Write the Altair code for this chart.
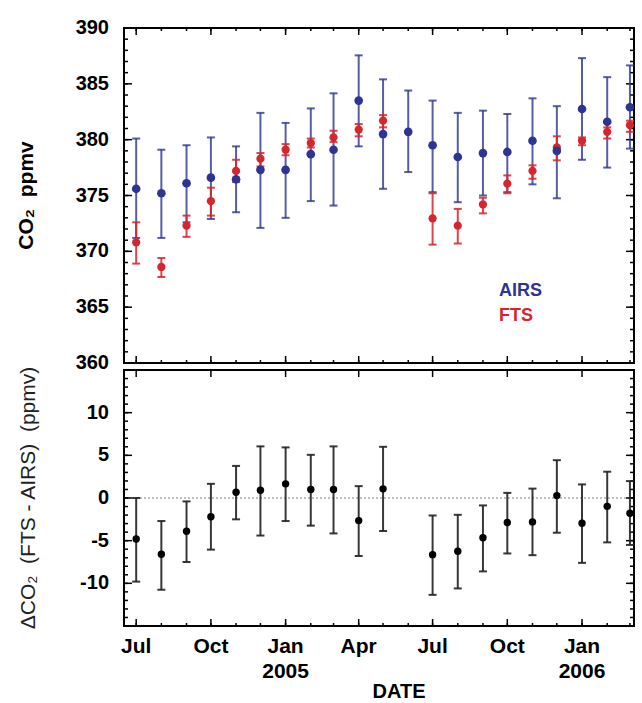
import altair as alt
import pandas as pd

# ---------------- data ----------------
months = ["2004-07-01", "2004-08-01", "2004-09-01", "2004-10-01", "2004-11-01", "2004-12-01",
          "2005-01-01", "2005-02-01", "2005-03-01", "2005-04-01", "2005-05-01", "2005-06-01",
          "2005-07-01", "2005-08-01", "2005-09-01", "2005-10-01", "2005-11-01", "2005-12-01",
          "2006-01-01", "2006-02-01", "2006-03-01"]

airs = [375.6, 375.2, 376.1, 376.6, 376.45, 377.3, 377.3, 378.7, 379.1, 383.5, 380.5, 380.7,
        379.5, 378.45, 378.8, 378.9, 379.9, 379.0, 382.75, 381.6, 382.9]
airs_lo = [371.2, 371.2, 372.6, 372.9, 373.5, 372.1, 373.0, 374.5, 374.1, 379.4, 375.6, 377.1,
           375.3, 374.4, 375.0, 375.3, 376.0, 374.75, 378.2, 377.5, 379.2]
airs_hi = [380.1, 379.1, 379.5, 380.2, 379.4, 382.4, 381.5, 382.8, 384.15, 387.55, 385.4, 384.4,
           383.5, 382.4, 382.6, 382.3, 383.7, 383.0, 387.3, 385.6, 386.65]

fts = [370.8, 368.6, 372.3, 374.5, 377.2, 378.3, 379.1, 379.7, 380.2, 380.9, 381.7, None,
       372.95, 372.3, 374.2, 376.06, 377.2, 379.3, 379.9, 380.7, 381.3]
fts_lo = [368.9, 367.7, 371.3, 373.2, 376.2, 377.6, 378.6, 379.3, 379.8, 380.3, 381.1, None,
          370.6, 370.7, 373.4, 375.2, 376.5, 378.15, 379.5, 380.1, 380.7]
fts_hi = [372.6, 369.4, 373.2, 375.7, 378.2, 378.8, 379.6, 380.1, 380.8, 381.4, 382.2, None,
          375.2, 373.8, 374.8, 376.8, 377.7, 380.3, 380.2, 381.1, 381.7]

delta = [-4.8, -6.6, -3.9, -2.2, 0.68, 0.91, 1.66, 1.0, 1.0, -2.65, 1.07, None,
         -6.64, -6.24, -4.66, -2.88, -2.8, 0.28, -2.96, -0.98, -1.78]
delta_lo = [-9.8, -10.75, -7.5, -6.05, -2.5, -4.4, -2.7, -3.24, -4.15, -6.8, -3.87, None,
            -11.35, -10.6, -8.6, -6.5, -6.7, -4.07, -7.6, -5.2, -5.5]
delta_hi = [0.0, -2.7, -0.4, 1.66, 3.76, 6.05, 5.93, 5.06, 6.05, 1.39, 6.0, None,
            -2.05, -1.97, -0.87, 0.6, 1.1, 4.43, 1.59, 3.08, 1.98]

series_names = ["AIRS", "FTS"]
series_colors = ["#2d3494", "#d6262b"]

# axis decorations / labels
top_major = [360, 365, 370, 375, 380, 385, 390]
top_minor = list(range(360, 391))
bot_major = [-15, -10, -5, 0, 5, 10, 15]
bot_labels = [-10, -5, 0, 5, 10]
bot_minor = list(range(-15, 16))
x_major = ["2004-07-01", "2004-10-01", "2005-01-01", "2005-04-01",
           "2005-07-01", "2005-10-01", "2006-01-01"]
x_major_labels = ["Jul", "Oct", "Jan", "Apr", "Jul", "Oct", "Jan"]
x_minor = months
year_dates = ["2005-01-01", "2006-01-01"]
year_labels = ["2005", "2006"]
x_domain = ["2004-06-16", "2006-03-06"]
top_title = "CO\u2082\u00a0\u00a0ppmv"
bot_title = "\u0394CO\u2082\u00a0\u00a0(FTS - AIRS)\u00a0\u00a0(ppmv)"
x_title = "DATE"


def ms(s):
    return int(pd.Timestamp(s, tz="UTC").value // 10**6)


# ---------------- frames ----------------
W = 510
H_TOP = 335
H_BOT = 256
FONT = "Liberation Sans"

df_airs = pd.DataFrame({"d": months, "v": airs, "lo": airs_lo, "hi": airs_hi})
df_fts = pd.DataFrame({"d": months, "v": fts, "lo": fts_lo, "hi": fts_hi}).dropna()
df_delta = pd.DataFrame({"d": months, "v": delta, "lo": delta_lo, "hi": delta_hi}).dropna()

xscale = alt.Scale(type="utc", domain=[ms(x_domain[0]), ms(x_domain[1])])
yscale_top = alt.Scale(domain=[360, 390], nice=False, zero=False)
yscale_bot = alt.Scale(domain=[-15, 15], nice=False, zero=False)

X_NOAX = alt.X("d:T", scale=xscale, axis=None)


def y_ticks(vals, scale, length):
    df = pd.DataFrame({"t": vals})
    base = alt.Chart(df).mark_rule(color="black", strokeWidth=1.5)
    left = base.encode(y=alt.Y("t:Q", scale=scale, axis=None), x=alt.value(0), x2=alt.value(length))
    right = base.encode(y=alt.Y("t:Q", scale=scale, axis=None), x=alt.value(W), x2=alt.value(W - length))
    return [left, right]


def y_labels(vals, scale):
    df = pd.DataFrame({"t": vals, "txt": [str(v) for v in vals]})
    return alt.Chart(df).mark_text(align="right", baseline="middle", font=FONT, fontSize=20,
                                   fontWeight="bold", color="black").encode(
        y=alt.Y("t:Q", scale=scale, axis=None), x=alt.value(-15), text="txt:N")


def y_title(text, H, xpos, weight, color):
    return alt.Chart(pd.DataFrame({"txt": [text]})).mark_text(
        angle=270, align="center", baseline="middle", font=FONT, fontSize=21,
        fontWeight=weight, color=color).encode(x=alt.value(xpos), y=alt.value(H / 2), text="txt:N")


def x_ticks(vals, length, H, top=True, bottom=True):
    df = pd.DataFrame({"d": vals})
    base = alt.Chart(df).mark_rule(color="black", strokeWidth=1.5)
    out = []
    if top:
        out.append(base.encode(x=X_NOAX, y=alt.value(0), y2=alt.value(length)))
    if bottom:
        out.append(base.encode(x=X_NOAX, y=alt.value(H), y2=alt.value(H - length)))
    return out


def errbars(df, scale, color, opacity=1.0, cap=8, width=2):
    rule = alt.Chart(df).mark_rule(color=color, strokeWidth=width, opacity=opacity).encode(
        x=X_NOAX, y=alt.Y("lo:Q", scale=scale, axis=None), y2="hi:Q")
    cap_lo = alt.Chart(df).mark_tick(color=color, size=cap, thickness=2, orient="horizontal", opacity=opacity).encode(
        x=X_NOAX, y=alt.Y("lo:Q", scale=scale, axis=None))
    cap_hi = alt.Chart(df).mark_tick(color=color, size=cap, thickness=2, orient="horizontal", opacity=opacity).encode(
        x=X_NOAX, y=alt.Y("hi:Q", scale=scale, axis=None))
    return [rule, cap_lo, cap_hi]


# ---------- top panel ----------
blue_pts = alt.Chart(df_airs).mark_circle(color=series_colors[0], size=75, opacity=1).encode(
    x=X_NOAX, y=alt.Y("v:Q", scale=yscale_top, axis=None))
red_pts = alt.Chart(df_fts).mark_circle(color=series_colors[1], size=68, opacity=1).encode(
    x=X_NOAX, y=alt.Y("v:Q", scale=yscale_top, axis=None))

legend_layers = []
for i, (nm, col) in enumerate(zip(series_names, series_colors)):
    legend_layers.append(
        alt.Chart(pd.DataFrame({"name": [nm]})).mark_text(
            align="left", baseline="middle", font=FONT, fontSize=18, fontWeight="bold", color=col
        ).encode(x=alt.value(375), y=alt.value(263 + 25 * i), text="name:N"))

top_layers = (y_ticks(top_minor, yscale_top, 4) + y_ticks(top_major, yscale_top, 8)
              + x_ticks(x_minor, 3, H_TOP) + x_ticks(x_major, 7, H_TOP)
              + errbars(df_airs, yscale_top, series_colors[0], opacity=0.8)
              + errbars(df_fts, yscale_top, series_colors[1], opacity=0.85)
              + [red_pts, blue_pts] + legend_layers
              + [y_labels(top_major, yscale_top), y_title(top_title, H_TOP, -97, "bold", "black")])

top = alt.layer(*top_layers).properties(width=W, height=H_TOP)

# ---------- bottom panel ----------
zero_df = pd.DataFrame({"z": [0]})
zero_line = alt.Chart(zero_df).mark_rule(color="#aaaaaa", strokeWidth=1.5, strokeDash=[2, 2]).encode(
    y=alt.Y("z:Q", scale=yscale_bot, axis=None), x=alt.value(0), x2=alt.value(W))

black_pts = alt.Chart(df_delta).mark_circle(color="black", size=55, opacity=1).encode(
    x=X_NOAX, y=alt.Y("v:Q", scale=yscale_bot, axis=None))

df_xlab = pd.DataFrame({"d": x_major, "txt": x_major_labels})
x_labels = alt.Chart(df_xlab).mark_text(baseline="top", align="center", font=FONT, fontSize=21,
                                        fontWeight="bold", color="black").encode(
    x=X_NOAX, y=alt.value(H_BOT + 10), text="txt:N")

df_years = pd.DataFrame({"d": year_dates, "txt": year_labels})
years = alt.Chart(df_years).mark_text(baseline="top", align="center", font=FONT, fontSize=21,
                                      fontWeight="bold", color="black").encode(
    x=X_NOAX, y=alt.value(H_BOT + 35), text="txt:N")

date_title = alt.Chart(pd.DataFrame({"txt": [x_title]})).mark_text(
    baseline="top", align="center", font=FONT, fontSize=20, fontWeight="bold", color="black").encode(
    x=alt.value(275), y=alt.value(H_BOT + 56), text="txt:N")

bot_layers = ([zero_line]
              + y_ticks(bot_minor, yscale_bot, 4) + y_ticks(bot_major, yscale_bot, 8)
              + x_ticks(x_minor, 3, H_BOT, top=False) + x_ticks(x_major, 7, H_BOT)
              + errbars(df_delta, yscale_bot, "#222222", opacity=0.9)
              + [black_pts, x_labels, years, date_title,
                 y_labels(bot_labels, yscale_bot), y_title(bot_title, H_BOT, -95, "normal", "#222222")])

bottom = alt.layer(*bot_layers).properties(width=W, height=H_BOT)

chart = alt.vconcat(top, bottom, spacing=7, bounds="flush").properties(
    padding={"left": 15, "top": 17, "right": 6, "bottom": 0},
    background="white",
).configure_view(stroke="black", strokeWidth=2)

chart.save("out.html", embed_options={"renderer": "svg", "actions": False})
